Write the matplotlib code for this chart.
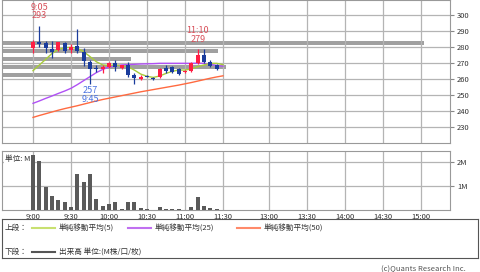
import numpy as np
import matplotlib
matplotlib.use('Agg')
import matplotlib.pyplot as plt

plt.rcParams['font.family'] = ['Noto Sans CJK JP', 'DejaVu Sans']

# 5-minute bars, 9:00 .. 11:25
opens  = [279.6, 283.0, 282.3, 278.5, 278.0, 282.3, 278.0, 280.6, 277.0, 270.8,
          267.0, 266.0, 267.7, 269.8, 266.7, 268.8, 262.5, 259.8, 261.9, 260.5,
          261.0, 266.7, 267.3, 266.0, 264.2, 265.2, 269.8, 275.0, 270.8, 268.5]
highs  = [284.4, 293.0, 284.0, 284.0, 283.0, 283.0, 282.0, 291.0, 279.6, 271.9,
          268.5, 268.8, 270.8, 271.9, 268.8, 270.8, 263.5, 262.5, 262.5, 261.0,
          266.7, 268.8, 268.1, 266.7, 265.4, 270.8, 279.0, 278.5, 271.9, 269.4]
lows   = [276.4, 280.2, 276.0, 273.0, 277.5, 276.0, 276.0, 276.0, 268.0, 257.0,
          264.6, 263.5, 266.7, 265.2, 266.0, 261.5, 256.9, 259.2, 261.2, 259.2,
          260.4, 263.5, 264.0, 262.5, 264.0, 264.6, 269.4, 269.8, 267.3, 265.6]
closes = [283.3, 282.0, 279.6, 276.7, 283.0, 277.7, 280.2, 277.7, 271.5, 266.0,
          266.5, 267.3, 269.8, 267.7, 268.5, 262.5, 260.4, 261.5, 261.5, 260.0,
          266.0, 265.2, 264.6, 263.1, 265.2, 269.8, 275.0, 270.8, 268.3, 266.0]
volume = [2.29, 2.05, 0.95, 0.58, 0.42, 0.33, 0.11, 1.50, 1.18, 1.50,
          0.44, 0.18, 0.24, 0.33, 0.03, 0.33, 0.33, 0.07, 0.05, 0.01,
          0.11, 0.06, 0.06, 0.06, 0.01, 0.11, 0.53, 0.18, 0.08, 0.06]

ma5  = [265.2, 268.8, 272.3, 276.0, 278.5, 279.6, 279.8, 279.2, 277.1, 274.0,
        270.8, 268.8, 268.5, 268.8, 268.3, 267.7, 265.6, 263.1, 261.7, 261.0,
        261.9, 263.5, 264.8, 265.6, 265.6, 266.3, 267.7, 268.8, 269.8, 269.8, 269.0]
ma25 = [244.8, 246.3, 247.9, 249.4, 251.0, 252.5, 254.2, 256.5, 259.0, 261.5,
        264.0, 266.0, 267.5, 268.3, 268.8, 269.0, 269.2, 269.4, 269.5, 269.6,
        269.8, 269.8, 269.8, 269.8, 269.8, 269.8, 269.9, 269.8, 269.2, 268.5, 268.0]
ma50 = [236.0, 237.2, 238.3, 239.4, 240.5, 241.5, 242.4, 243.3, 244.3, 245.3,
        246.3, 247.2, 248.0, 248.8, 249.6, 250.4, 251.2, 252.0, 252.7, 253.4,
        254.1, 254.8, 255.5, 256.2, 257.0, 257.8, 258.7, 259.6, 260.5, 261.3, 262.0]

# volume by price (5 yen bands)
band_price = [282.5, 277.5, 272.5, 267.5, 262.5]
band_vol = [6.66, 3.41, 2.04, 3.54, 1.09]

tick_pos = [0, 6, 12, 18, 24, 30, 37.2, 43.2, 49.2, 55.2, 61.2]
tick_lab = ['9:00', '9:30', '10:00', '10:30', '11:00', '11:30',
            '13:00', '13:30', '14:00', '14:30', '15:00']

RED = '#ff1f44'
BLUE = '#1a3c9c'
GRID = '#b4b4b4'
FS = 5.5

fig = plt.figure(figsize=(4.8, 2.72), dpi=100)
ax = fig.add_axes([2/480, 1 - 143/272, 448/480, 143/272])
axv = fig.add_axes([2/480, 62/272, 448/480, 59/272])

xmin, xmax = -4.9, 65.85
x = np.arange(len(closes))

# --- top panel
ax.set_xlim(xmin, xmax)
ax.set_ylim(220, 309.4)
ax.set_xticks(tick_pos)
ax.set_xticklabels([])
ax.tick_params(axis='x', length=0)
ax.set_yticks(range(230, 301, 10))
ax.yaxis.tick_right()
ax.tick_params(axis='y', labelsize=FS, length=3, color='#888', labelcolor='#333', pad=2)
ax.grid(True, color=GRID, lw=0.9, zorder=0)
for s in ax.spines.values():
    s.set_color('#999')

scale = (61.7 - xmin) / max(band_vol)
ax.barh(band_price, [v*scale for v in band_vol], height=2.9, left=xmin,
        color='#a0a0a0', zorder=1)

xm = np.arange(len(ma5))
ax.plot(xm, ma50, color='#ff6a40', lw=1.0, zorder=2)
ax.plot(xm, ma25, color='#b050f5', lw=1.0, zorder=2)
ax.plot(xm, ma5, color='#a8cc3a', lw=1.0, zorder=2)

for i in x:
    up = closes[i] >= opens[i]
    c = RED if up else BLUE
    ax.vlines(i, lows[i], highs[i], color=c, lw=0.9, zorder=3)
    bot = min(opens[i], closes[i])
    h = max(abs(closes[i] - opens[i]), 0.5)
    ax.bar(i, h, bottom=bot, width=0.66, color=c, zorder=4)

AFS = FS + 1
ax.text(1, 305, '9:05', color='#d8505a', fontsize=AFS, ha='center', va='center')
ax.text(1, 299.5, '293', color='#d8505a', fontsize=AFS, ha='center', va='center')
ax.text(26, 290.5, '11:10', color='#d8505a', fontsize=AFS, ha='center', va='center')
ax.text(26, 285, '279', color='#d8505a', fontsize=AFS, ha='center', va='center')
ax.text(9, 253, '257', color='#4a72e0', fontsize=AFS, ha='center', va='center')
ax.text(9, 247.5, '9:45', color='#4a72e0', fontsize=AFS, ha='center', va='center')

# --- volume panel
axv.set_xlim(xmin, xmax)
axv.set_ylim(0, 2.46)
axv.bar(x, volume, width=0.62, color='#5a5a5a', zorder=3)
axv.set_xticks(tick_pos)
axv.set_xticklabels(tick_lab)
axv.tick_params(axis='x', labelsize=FS, length=0, pad=2, labelcolor='#333')
axv.set_yticks([1, 2])
axv.set_yticklabels(['1M', '2M'])
axv.yaxis.tick_right()
axv.tick_params(axis='y', labelsize=FS, length=3, color='#888', labelcolor='#333', pad=2)
axv.grid(True, color=GRID, lw=0.9, zorder=0)
for s in axv.spines.values():
    s.set_color('#999')
axv.text(0.006, 0.93, '単位: M', transform=axv.transAxes, fontsize=FS,
         va='top', ha='left', color='#333', zorder=5,
         bbox=dict(facecolor='white', edgecolor='none', pad=0.6))

# --- legend box
lg = fig.add_axes([2/480, 14/272, 476/480, 39/272])
lg.set_xlim(0, 476)
lg.set_ylim(39, 0)
lg.set_xticks([])
lg.set_yticks([])
for s in lg.spines.values():
    s.set_color('#555')
    s.set_linewidth(0.8)
ly1, ly2 = 9, 33
lg.text(3, ly1, '上段：', fontsize=FS, va='center', color='#333')
lg.text(3, ly2, '下段：', fontsize=FS, va='center', color='#333')
items = [(30, '#c8e070', '単純移動平均(5)'),
         (126, '#c070f0', '単純移動平均(25)'),
         (235, '#ff8a6a', '単純移動平均(50)')]
for x0, col, lab in items:
    lg.plot([x0, x0 + 23], [ly1, ly1], color=col, lw=1.5)
    lg.text(x0 + 27, ly1, lab, fontsize=FS, va='center', color='#333')
lg.plot([30, 53], [ly2, ly2], color='#555', lw=1.5)
lg.text(57, ly2, '出来高 単位:(M株/口/枚)', fontsize=FS, va='center', color='#333')

fig.text(466/480, 1 - 268/272, '(c)Quants Research Inc.', fontsize=FS,
         ha='right', va='center', color='#555')

fig.savefig('out.png', dpi=100)
